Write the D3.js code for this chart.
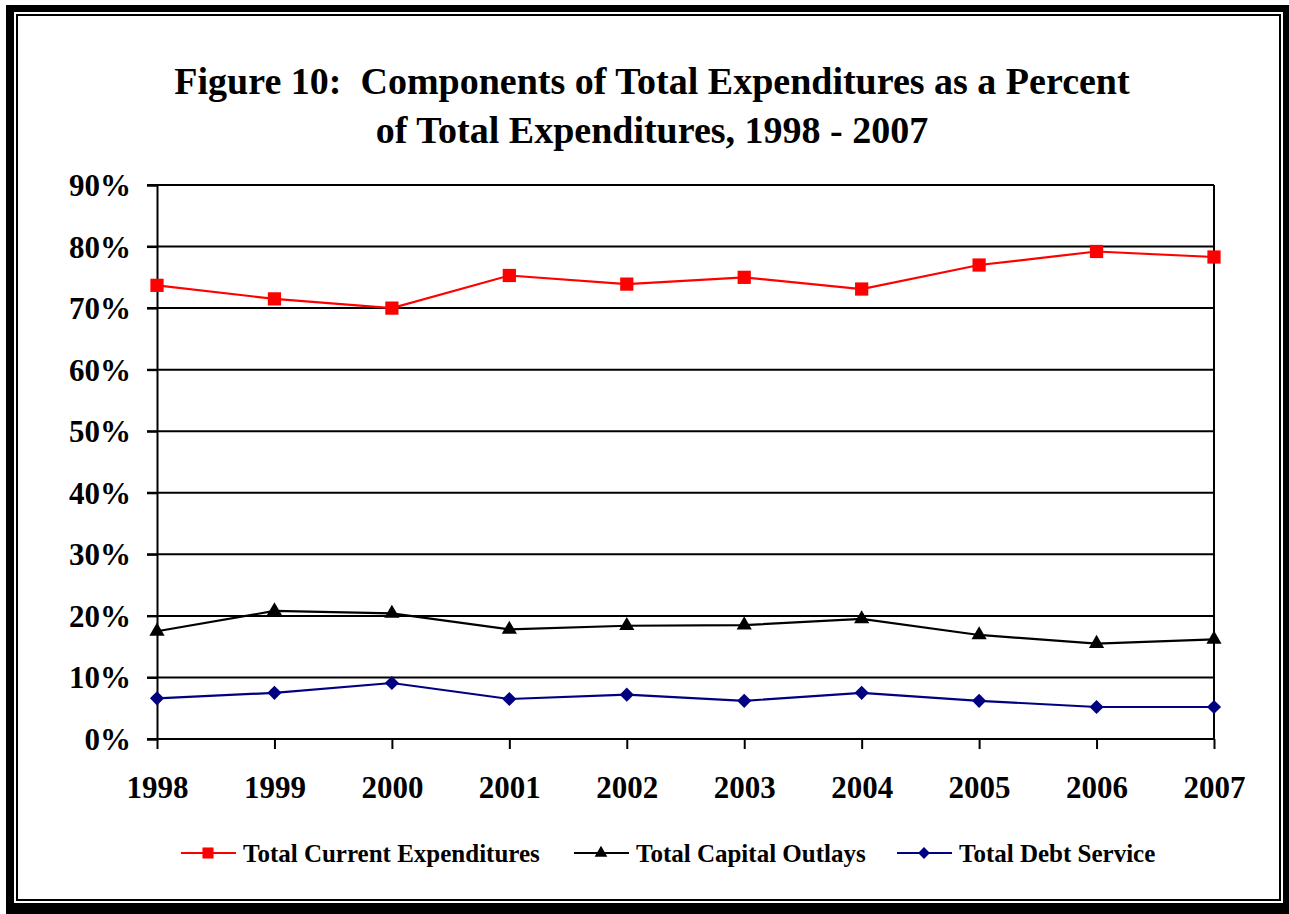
<!DOCTYPE html>
<html>
<head>
<meta charset="utf-8">
<script src="https://cdn.jsdelivr.net/npm/d3@7"></script>
<style>
  body { margin: 0; background: #fff; }
  text { font-family: "Liberation Serif", "Times New Roman", serif; font-weight: bold; fill: #000; }
</style>
</head>
<body>
<div id="chart"></div>
<script>
// chart data
var years = ["1998", "1999", "2000", "2001", "2002", "2003", "2004", "2005", "2006", "2007"];
var currentExp = [73.7, 71.5, 70.0, 75.3, 73.9, 75.0, 73.1, 77.0, 79.2, 78.3];
var capitalOut = [17.5, 20.8, 20.4, 17.8, 18.4, 18.5, 19.5, 16.9, 15.5, 16.2];
var debtService = [6.6, 7.5, 9.1, 6.5, 7.2, 6.2, 7.5, 6.2, 5.2, 5.2];
var yTicks = [0, 10, 20, 30, 40, 50, 60, 70, 80, 90];
var titleLines = ["Figure 10:  Components of Total Expenditures as a Percent",
                  "of Total Expenditures, 1998 - 2007"];

// rotate: the diamond is a square turned 45 degrees
var series = [
    {name: "Total Current Expenditures", values: currentExp, color: "#ff0000", symbol: d3.symbolSquare, size: 175, rotate: 0},
    {name: "Total Capital Outlays", values: capitalOut, color: "#000000", symbol: d3.symbolTriangle, size: 100, rotate: 0},
    {name: "Total Debt Service", values: debtService, color: "#000080", symbol: d3.symbolSquare, size: 100, rotate: 45}
];

function drawChart() {
    var W = 1289, H = 914;
    var svg = d3.select("#chart").append("svg").attr("width", W).attr("height", H);

    // double frame round the picture
    svg.append("rect").attr("x", 6).attr("y", 5).attr("width", W - 6).attr("height", H - 5).attr("fill", "#000");
    svg.append("rect").attr("x", 14).attr("y", 12).attr("width", 1283 - 14).attr("height", 903 - 12).attr("fill", "#fff");
    svg.append("rect").attr("x", 17).attr("y", 15).attr("width", 1280 - 17).attr("height", 900 - 15)
        .attr("fill", "none").attr("stroke", "#000").attr("stroke-width", 2);

    // title
    svg.selectAll("text.title").data(titleLines).enter().append("text")
        .attr("class", "title")
        .attr("x", 652)
        .attr("y", function(d, i) { return 94 + i * 49; })
        .attr("text-anchor", "middle")
        .style("font-size", "38px")
        .style("white-space", "pre")
        .text(function(d) { return d; });

    var plotLeft = 157, plotRight = 1214, plotTop = 185, plotBottom = 739;

    var x = d3.scalePoint().domain(years).range([plotLeft, plotRight]);
    var y = d3.scaleLinear().domain([0, 90]).range([plotBottom, plotTop]);

    // gridlines
    svg.append("g").selectAll("line").data(yTicks).enter().append("line")
        .attr("x1", plotLeft - 10).attr("x2", plotRight)
        .attr("y1", function(d) { return y(d); }).attr("y2", function(d) { return y(d); })
        .attr("stroke", "#000").attr("stroke-width", 2);

    // right edge of plot area
    svg.append("line").attr("x1", plotRight).attr("x2", plotRight).attr("y1", plotTop).attr("y2", plotBottom)
        .attr("stroke", "#000").attr("stroke-width", 2);

    // y axis
    var yAxis = svg.append("g").attr("transform", "translate(" + plotLeft + ",0)")
        .call(d3.axisLeft(y).tickValues(yTicks).tickSize(10).tickPadding(16)
              .tickFormat(function(d) { return d + "%"; }));
    yAxis.select(".domain").attr("stroke", "#000").attr("stroke-width", 2);
    yAxis.selectAll(".tick line").attr("stroke-width", 2);
    yAxis.selectAll(".tick text").style("font-size", "31px")
        .style("font-family", "Liberation Serif, Times New Roman, serif").attr("dy", "0.34em");

    // x axis
    var xAxis = svg.append("g").attr("transform", "translate(0," + plotBottom + ")")
        .call(d3.axisBottom(x).tickSize(10).tickPadding(0));
    xAxis.select(".domain").remove();
    xAxis.selectAll(".tick line").attr("stroke-width", 2);
    xAxis.selectAll(".tick text").style("font-size", "31px")
        .style("font-family", "Liberation Serif, Times New Roman, serif")
        .attr("y", 59).attr("dy", 0);

    // lines and markers
    var line = d3.line()
        .x(function(d, i) { return x(years[i]); })
        .y(function(d) { return y(d); });

    series.forEach(function(s) {
        svg.append("path").datum(s.values)
            .attr("d", line)
            .attr("fill", "none")
            .attr("stroke", s.color)
            .attr("stroke-width", 2.2);
        svg.append("g").selectAll("path").data(s.values).enter().append("path")
            .attr("d", d3.symbol().type(s.symbol).size(s.size))
            .attr("transform", function(d, i) {
                return "translate(" + x(years[i]) + "," + y(d) + ") rotate(" + s.rotate + ")";
            })
            .attr("fill", s.color);
    });

    // legend
    var legendX = [181, 574, 897];
    var legend = svg.append("g").selectAll("g").data(series).enter().append("g")
        .attr("transform", function(d, i) { return "translate(" + legendX[i] + ",853)"; });
    legend.append("line").attr("x1", 0).attr("x2", 55).attr("y1", 0).attr("y2", 0)
        .attr("stroke", function(d) { return d.color; }).attr("stroke-width", 2.2);
    legend.append("path")
        .attr("d", function(d) { return d3.symbol().type(d.symbol).size(d.size * 0.7)(); })
        .attr("transform", function(d) { return "translate(27,0) rotate(" + d.rotate + ")"; })
        .attr("fill", function(d) { return d.color; });
    legend.append("text").attr("x", 62).attr("y", 0).attr("dy", "0.34em")
        .style("font-size", "25px")
        .text(function(d) { return d.name; });
}

drawChart();
</script>
</body>
</html>
